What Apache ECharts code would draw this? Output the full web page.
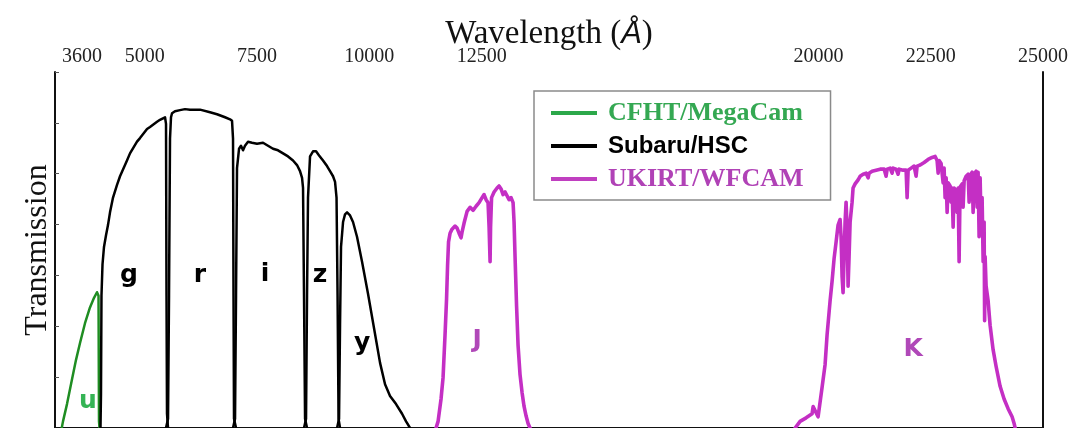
<!DOCTYPE html>
<html><head><meta charset="utf-8">
<script src="https://cdn.jsdelivr.net/npm/echarts@6/dist/echarts.min.js"></script>
<style>html,body{margin:0;padding:0;background:#fff}#c{width:1074px;height:428px}</style>
</head><body><div id="c"></div>
<script>
// ---- axis ticks ----
const xTicks = [3600, 5000, 7500, 10000, 12500, 20000, 22500, 25000];

// ---- CFHT/MegaCam u ----
const uWave  = [3150, 3178, 3267, 3379, 3468, 3557, 3668, 3779, 3869, 3935, 3958, 3969, 3980, 3991];
const uTrans = [0, 0.013, 0.047, 0.096, 0.134, 0.167, 0.206, 0.237, 0.256, 0.267, 0.268, 0.26, 0.013, 0];

// ---- Subaru/HSC g r i z y ----
const gWave  = [4013, 4024, 4035, 4058, 4091, 4136, 4180, 4225, 4292, 4381, 4448, 4603, 4670, 4826, 4893, 5049, 5116, 5272, 5338, 5405, 5450, 5472, 5483, 5494, 5517];
const gTrans = [0, 0.067, 0.26, 0.322, 0.356, 0.379, 0.399, 0.424, 0.453, 0.478, 0.495, 0.526, 0.540, 0.563, 0.570, 0.588, 0.592, 0.602, 0.606, 0.609, 0.611, 0.598, 0.26, 0.028, 0];
const rWave  = [5472, 5517, 5539, 5561, 5583, 5606, 5672, 5784, 5895, 6006, 6229, 6452, 6608, 6786, 6897, 6942, 6964, 6975, 6986, 7031];
const rTrans = [0, 0.018, 0.26, 0.569, 0.611, 0.619, 0.623, 0.625, 0.627, 0.626, 0.626, 0.621, 0.617, 0.611, 0.607, 0.604, 0.569, 0.26, 0.018, 0];
const iWave  = [6964, 7009, 7031, 7053, 7098, 7142, 7187, 7231, 7298, 7387, 7498, 7632, 7743, 7855, 7966, 8078, 8189, 8300, 8389, 8456, 8501, 8523, 8545, 8568, 8612];
const iTrans = [0, 0.018, 0.26, 0.511, 0.549, 0.555, 0.546, 0.555, 0.563, 0.561, 0.559, 0.561, 0.555, 0.549, 0.546, 0.540, 0.534, 0.526, 0.517, 0.505, 0.492, 0.472, 0.26, 0.018, 0];
const zWave  = [8545, 8590, 8612, 8634, 8679, 8746, 8813, 8880, 8968, 9057, 9124, 9191, 9236, 9269, 9292, 9314, 9347];
const zTrans = [0, 0.018, 0.26, 0.453, 0.534, 0.544, 0.544, 0.536, 0.526, 0.515, 0.505, 0.495, 0.484, 0.453, 0.26, 0.018, 0];
const yWave  = [9281, 9325, 9347, 9369, 9414, 9458, 9503, 9570, 9636, 9725, 9837, 9970, 10104, 10238, 10349, 10460, 10594, 10728, 10817, 10906];
const yTrans = [0, 0.018, 0.202, 0.356, 0.405, 0.420, 0.424, 0.418, 0.405, 0.376, 0.327, 0.264, 0.196, 0.128, 0.086, 0.063, 0.047, 0.028, 0.013, 0];

// ---- UKIRT/WFCAM J K ----
const jWave  = [11485, 11530, 11596, 11641, 11685, 11719, 11741, 11763, 11797, 11841, 11908, 11953, 11997, 12042, 12064, 12109, 12176, 12242, 12309, 12376, 12443, 12510, 12554, 12599, 12643, 12666, 12688, 12699, 12721, 12777, 12844, 12888, 12933, 12977, 13022, 13066, 13111, 13155, 13200, 13222, 13244, 13278, 13311, 13355, 13400, 13444, 13489, 13534, 13578];
const jTrans = [0, 0.013, 0.057, 0.099, 0.183, 0.254, 0.318, 0.366, 0.383, 0.391, 0.397, 0.393, 0.383, 0.374, 0.385, 0.403, 0.426, 0.434, 0.428, 0.436, 0.443, 0.453, 0.459, 0.449, 0.443, 0.395, 0.327, 0.395, 0.453, 0.464, 0.472, 0.476, 0.470, 0.459, 0.464, 0.461, 0.449, 0.453, 0.443, 0.405, 0.337, 0.240, 0.163, 0.105, 0.070, 0.043, 0.024, 0.009, 0];
const kWave  = [19480,19591,19725,19858,19881,19992,20081,20148,20192,20259,
  20304,20348,20393,20437,20482,20504,20526,20548,20571,20593,
  20615,20637,20660,20682,20705,20749,20771,20816,20883,20927,
  20994,21061,21106,21128,21195,21284,21373,21462,21506,21529,
  21595,21640,21662,21729,21774,21796,21885,21952,21974,21997,
  22063,22130,22174,22197,22264,22353,22442,22531,22598,22642,
  22665,22687,22731,22776,22798,22820,22843,22865,22887,22932,
  22954,22976,22999,23021,23066,23088,23110,23132,23154,23199,
  23221,23244,23288,23333,23355,23377,23422,23444,23466,23511,
  23533,23555,23577,23600,23622,23644,23667,23689,23700,23711,
  23733,23778,23822,23889,23956,24045,24134,24223,24312,24357,24379];
const kTrans = [0,0.013,0.020,0.028,0.042,0.022,0.080,0.125,0.183,0.250,
  0.289,0.333,0.366,0.399,0.410,0.376,0.298,0.266,0.337,0.405,
  0.444,0.395,0.279,0.337,0.405,0.444,0.472,0.480,0.488,0.495,
  0.499,0.501,0.492,0.501,0.505,0.507,0.509,0.509,0.495,0.509,
  0.511,0.501,0.511,0.509,0.499,0.509,0.507,0.507,0.453,0.507,
  0.511,0.515,0.495,0.515,0.517,0.522,0.528,0.532,0.534,0.526,
  0.501,0.526,0.520,0.482,0.511,0.453,0.492,0.424,0.482,0.476,
  0.444,0.472,0.395,0.472,0.466,0.424,0.472,0.327,0.474,0.480,
  0.434,0.486,0.495,0.499,0.444,0.497,0.503,0.424,0.499,0.505,
  0.434,0.503,0.376,0.492,0.395,0.453,0.327,0.405,0.211,0.337,
  0.279,0.250,0.202,0.154,0.121,0.082,0.057,0.038,0.022,0.009,0];

// ---- filter name labels ----
const labelText  = ['u', 'g', 'r', 'i', 'z', 'y', 'J', 'K'];
const labelWave  = [3735, 4648, 6229, 7677, 8902, 9837, 12398, 22108];
const labelTrans = [0.053, 0.300, 0.300, 0.301, 0.300, 0.166, 0.172, 0.155];
const labelInst  = ['CFHT/MegaCam', 'Subaru/HSC', 'Subaru/HSC', 'Subaru/HSC', 'Subaru/HSC', 'Subaru/HSC', 'UKIRT/WFCAM', 'UKIRT/WFCAM'];

// ---- styles ----
const curveColor  = {'CFHT/MegaCam': '#1f8d22', 'Subaru/HSC': '#000000', 'UKIRT/WFCAM': '#c42fc4'};
const legendLine  = {'CFHT/MegaCam': '#2ca84a', 'Subaru/HSC': '#000000', 'UKIRT/WFCAM': '#c03fc0'};
const legendText  = {'CFHT/MegaCam': '#34a852', 'Subaru/HSC': '#000000', 'UKIRT/WFCAM': '#b042b6'};
const labelColor  = {'CFHT/MegaCam': '#35b455', 'Subaru/HSC': '#000000', 'UKIRT/WFCAM': '#b048b8'};

function pairs(w, t) { return w.map((v, i) => [v, t[i]]); }
function curve(name, w, t, width) {
  return {
    name: name, type: 'line', data: pairs(w, t), symbol: 'none', showSymbol: false,
    silent: true, clip: true,
    lineStyle: {color: curveColor[name], width: width, join: 'round', cap: 'round'},
    itemStyle: {color: curveColor[name]}
  };
}

const chart = echarts.init(document.getElementById('c'), null, {renderer: 'canvas'});
const option = {
  animation: false,
  backgroundColor: '#fff',
  grid: {left: 55, top: 72, width: 988, height: 362.5, show: false},
  xAxis: [{
    type: 'value', position: 'top', min: 3000, max: 25000,
    name: 'Wavelength ({a|Å})', nameLocation: 'middle', nameGap: 21, nameMoveOverlap: false,
    nameTextStyle: {fontFamily: 'Liberation Serif', fontSize: 33, color: '#111',
      rich: {a: {fontFamily: 'Liberation Sans', fontStyle: 'italic', fontSize: 31, color: '#111'}}},
    axisLine: {show: true, lineStyle: {color: '#111', width: 2}},
    axisTick: {show: true, inside: true, length: 4, customValues: xTicks, lineStyle: {color: '#555', width: 1}},
    axisLabel: {show: true, customValues: xTicks, margin: 5, fontFamily: 'Liberation Serif', fontSize: 20, color: '#222',
      formatter: v => String(v)},
    splitLine: {show: false}
  }],
  yAxis: [{
    type: 'value', position: 'left', min: 0, max: 0.7, interval: 0.1,
    name: 'Transmission', nameLocation: 'middle', nameGap: 1, nameMoveOverlap: false,
    nameTextStyle: {fontFamily: 'Liberation Serif', fontSize: 32, color: '#111'},
    axisLine: {show: true, lineStyle: {color: '#111', width: 2}},
    axisTick: {show: true, inside: true, length: 4, lineStyle: {color: '#555', width: 1}},
    axisLabel: {show: false}, splitLine: {show: false}
  }, {
    type: 'value', position: 'right', min: 0, max: 0.7, interval: 0.1,
    axisLine: {show: true, lineStyle: {color: '#111', width: 2}},
    axisTick: {show: false}, axisLabel: {show: false}, splitLine: {show: false}
  }],
  legend: {
    left: 534, top: 91, orient: 'vertical', icon: 'rect', itemWidth: 46, itemHeight: 4, itemGap: 7,
    padding: [9, 27, 8, 17], borderColor: '#8a8a8a', borderWidth: 1.5, backgroundColor: '#fff',
    selectedMode: false,
    textStyle: {padding: [0, 0, 0, 6], lineHeight: 26},
    data: [
      {name: 'CFHT/MegaCam', itemStyle: {color: legendLine['CFHT/MegaCam']},
       textStyle: {color: legendText['CFHT/MegaCam'], fontFamily: 'Liberation Serif', fontWeight: 'bold', fontSize: 26, lineHeight: 26, padding: [0, 0, 0, 6]}},
      {name: 'Subaru/HSC', itemStyle: {color: legendLine['Subaru/HSC']},
       textStyle: {color: legendText['Subaru/HSC'], fontFamily: 'Liberation Sans', fontWeight: 'bold', fontSize: 24, lineHeight: 26, padding: [0, 0, 0, 6]}},
      {name: 'UKIRT/WFCAM', itemStyle: {color: legendLine['UKIRT/WFCAM']},
       textStyle: {color: legendText['UKIRT/WFCAM'], fontFamily: 'Liberation Serif', fontWeight: 'bold', fontSize: 26, lineHeight: 26, padding: [0, 0, 0, 6]}}
    ]
  },
  series: [
    curve('CFHT/MegaCam', uWave, uTrans, 2.5),
    curve('Subaru/HSC', gWave, gTrans, 2.5),
    curve('Subaru/HSC', rWave, rTrans, 2.5),
    curve('Subaru/HSC', iWave, iTrans, 2.5),
    curve('Subaru/HSC', zWave, zTrans, 2.5),
    curve('Subaru/HSC', yWave, yTrans, 2.5),
    curve('UKIRT/WFCAM', jWave, jTrans, 3.6),
    curve('UKIRT/WFCAM', kWave, kTrans, 3.6),
    {
      name: 'filters', type: 'scatter', symbolSize: 0, silent: true, z: 5,
      itemStyle: {opacity: 1},
      data: labelText.map((t, i) => ({
        name: t, value: [labelWave[i], labelTrans[i]],
        label: {color: labelColor[labelInst[i]], opacity: 1}
      })),
      label: {show: true, position: 'inside', formatter: '{b}', fontFamily: 'DejaVu Sans',
              fontWeight: 'bold', fontSize: 25, opacity: 1}
    }
  ]
};
chart.setOption(option);
</script>
</body></html>
